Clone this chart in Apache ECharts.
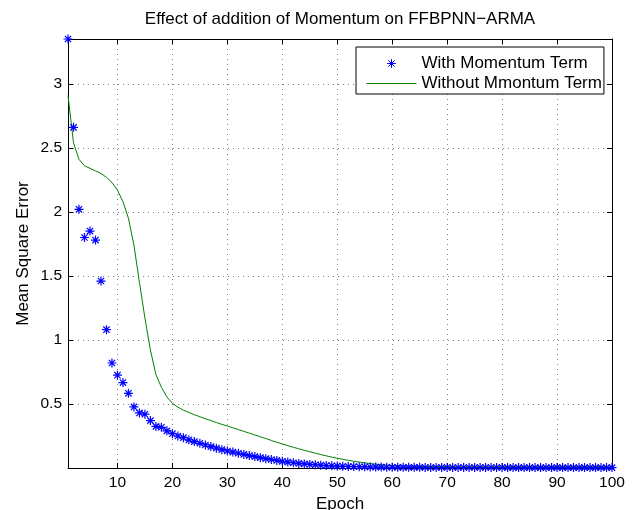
<!DOCTYPE html>
<html><head><meta charset="utf-8">
<script src="https://cdn.jsdelivr.net/npm/echarts@6/dist/echarts.min.js"></script>
<style>html,body{margin:0;padding:0;background:#fff}#c{width:635px;height:510px}</style>
</head><body><div id="c"></div>
<script>
// ---- data ----
const epochs = Array.from({length: 100}, (_, i) => i + 1);
const withMomentum = [
  3.35, 2.66, 2.02, 1.80, 1.85, 1.78, 1.46, 1.08, 0.82, 0.725,
  0.667, 0.583, 0.477, 0.43, 0.42, 0.37, 0.325, 0.318, 0.29, 0.268,
  0.25, 0.237, 0.22, 0.206, 0.193, 0.18, 0.167, 0.155, 0.143, 0.133,
  0.124, 0.115, 0.106, 0.097, 0.089, 0.081, 0.073, 0.066, 0.059, 0.052,
  0.046, 0.041, 0.036, 0.032, 0.028, 0.025, 0.022, 0.019, 0.017, 0.015,
  0.013, 0.012, 0.011, 0.010, 0.009, 0.008, 0.007, 0.007, 0.006, 0.006,
  0.005, 0.005, 0.005, 0.005, 0.005, 0.004, 0.004, 0.004, 0.004, 0.004,
  0.004, 0.004, 0.004, 0.004, 0.004, 0.004, 0.004, 0.004, 0.004, 0.004,
  0.003, 0.003, 0.003, 0.003, 0.003, 0.003, 0.003, 0.003, 0.003, 0.003,
  0.003, 0.003, 0.003, 0.003, 0.003, 0.003, 0.003, 0.003, 0.003, 0.003
];
const withoutMomentum = [
  2.91, 2.54, 2.41, 2.36, 2.34, 2.32, 2.30, 2.27, 2.23, 2.17,
  2.08, 1.95, 1.74, 1.45, 1.17, 0.92, 0.73, 0.63, 0.555, 0.505,
  0.475, 0.452, 0.433, 0.416, 0.400, 0.385, 0.370, 0.355, 0.341, 0.328,
  0.314, 0.300, 0.286, 0.272, 0.258, 0.244, 0.230, 0.215, 0.201, 0.188,
  0.175, 0.162, 0.150, 0.138, 0.127, 0.116, 0.105, 0.095, 0.085, 0.076,
  0.068, 0.060, 0.053, 0.046, 0.040, 0.035, 0.030, 0.026, 0.022, 0.019,
  0.017, 0.015, 0.014, 0.013, 0.012, 0.012, 0.011, 0.011, 0.011, 0.011,
  0.010, 0.010, 0.010, 0.010, 0.010, 0.010, 0.010, 0.010, 0.010, 0.010,
  0.010, 0.010, 0.010, 0.010, 0.010, 0.010, 0.010, 0.010, 0.010, 0.010,
  0.010, 0.010, 0.010, 0.010, 0.010, 0.010, 0.010, 0.010, 0.010, 0.010
];
const xTicks = [10, 20, 30, 40, 50, 60, 70, 80, 90, 100];
const yTickLabels = ['0.5', '1', '1.5', '2', '2.5', '3'];
const seriesNames = ['With Momentum Term', 'Without Mmontum Term'];
const titleText = 'Effect of addition of Momentum on FFBPNN\u2212ARMA';

// ---- chart ----
const FONT = '"Liberation Sans", Arial, Helvetica, sans-serif';
const STAR = 'path://M0,-1L0,1M-1,0L1,0M-0.7,-0.7L0.7,0.7M-0.7,0.7L0.7,-0.7';
const STAR_LEGEND = 'path://M-1.6,-1.6M1.6,1.6M0,-1L0,1M-1,0L1,0M-0.7,-0.7L0.7,0.7M-0.7,0.7L0.7,-0.7';
const yMax = Math.max(...withMomentum, ...withoutMomentum);

const gridLine = {show: true, lineStyle: {color: '#808080', width: 1, type: [1, 4]}};
const axisLineBlack = {show: true, onZero: false, lineStyle: {color: '#000', width: 1}};
const tickIn = {show: true, inside: true, length: 5, lineStyle: {color: '#000'}};

const chart = echarts.init(document.getElementById('c'), null, {renderer: 'canvas'});
chart.setOption({
  animation: false,
  backgroundColor: '#fff',
  title: {
    text: titleText, left: 340, top: 11, textAlign: 'center', padding: 0,
    textStyle: {fontFamily: FONT, fontSize: 17, fontWeight: 'normal', color: '#000'}
  },
  legend: {
    left: 356, top: 47, orient: 'vertical',
    padding: [8, 2, 2, 10], itemGap: 3, itemWidth: 50, itemHeight: 14,
    backgroundColor: '#fff', borderColor: '#000', borderWidth: 1, borderRadius: 0,
    textStyle: {fontFamily: FONT, fontSize: 17, color: '#000'},
    data: [
      {name: seriesNames[0], icon: STAR_LEGEND, itemStyle: {color: 'rgba(0,0,0,0)', borderColor: '#0000ff', borderWidth: 1}},
      {name: seriesNames[1], lineStyle: {width: 1, color: '#008000'}, itemStyle: {color: 'rgba(0,0,0,0)', borderWidth: 0, opacity: 0}}
    ]
  },
  grid: {left: 68, right: 23, top: 39, bottom: 42, containLabel: false, outerBoundsMode: 'none'},
  xAxis: [{
    type: 'value', min: 1, max: 100,
    name: 'Epoch', nameLocation: 'middle', nameGap: 25,
    nameTextStyle: {fontFamily: FONT, fontSize: 17, color: '#000'},
    axisLine: axisLineBlack,
    axisTick: Object.assign({customValues: xTicks}, tickIn),
    axisLabel: {customValues: xTicks, margin: 7, fontFamily: FONT, fontSize: 15.5, color: '#000'},
    splitLine: gridLine
  }, {
    type: 'value', min: 1, max: 100, position: 'top',
    axisLine: axisLineBlack,
    axisTick: Object.assign({customValues: xTicks}, tickIn),
    axisLabel: {show: false}, splitLine: {show: false}
  }],
  yAxis: [{
    type: 'value', min: 0, max: yMax, interval: 0.5,
    name: 'Mean Square Error', nameLocation: 'middle', nameGap: 36, nameMoveOverlap: false,
    nameTextStyle: {fontFamily: FONT, fontSize: 17, color: '#000'},
    axisLine: axisLineBlack, axisTick: tickIn,
    axisLabel: {
      margin: 6, fontFamily: FONT, fontSize: 15.5, color: '#000',
      formatter: v => { const s = String(Math.round(v * 100) / 100); return yTickLabels.includes(s) ? s : ''; }
    },
    splitLine: gridLine
  }, {
    type: 'value', min: 0, max: yMax, interval: 0.5, position: 'right',
    axisLine: axisLineBlack, axisTick: tickIn,
    axisLabel: {show: false}, splitLine: {show: false}
  }],
  series: [{
    name: seriesNames[0], type: 'scatter', clip: false,
    xAxisIndex: 0, yAxisIndex: 0, z: 3,
    symbol: STAR, symbolSize: 9,
    itemStyle: {color: 'rgba(0,0,0,0)', borderColor: '#0000ff', borderWidth: 1.2, opacity: 1},
    data: epochs.map((e, i) => [e, withMomentum[i]])
  }, {
    name: seriesNames[1], type: 'line', symbol: 'none',
    xAxisIndex: 0, yAxisIndex: 0, z: 2,
    lineStyle: {color: '#008000', width: 1},
    itemStyle: {color: '#008000'},
    data: epochs.map((e, i) => [e, withoutMomentum[i]])
  }]
});
</script>
</body></html>
